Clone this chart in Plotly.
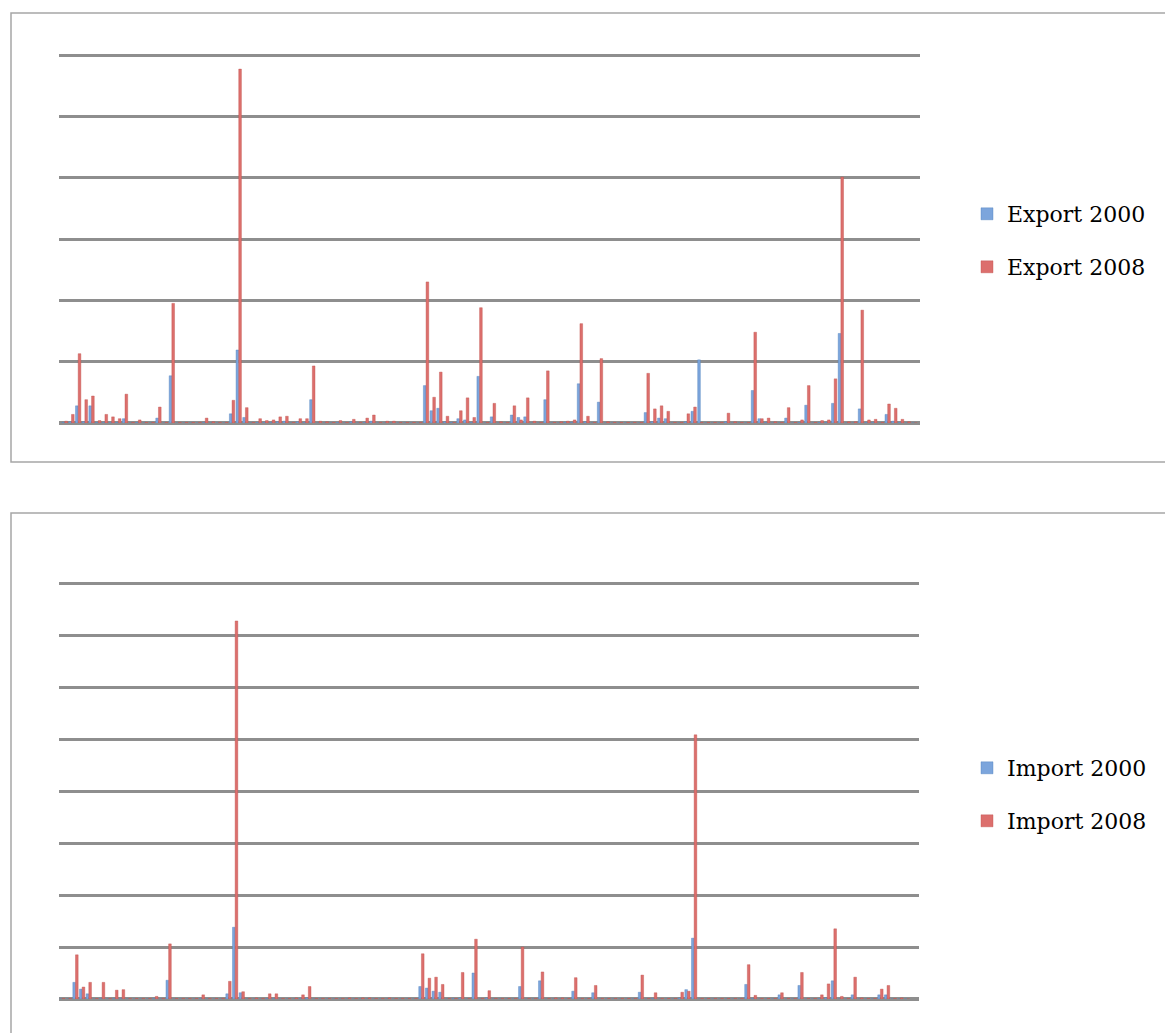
import plotly.graph_objects as go

W, H = 1173, 1033
OFF = 8  # page body margin in the browser
N = 128
categories = [str(i + 1) for i in range(N)]

export_2000 = [
    0.01, 0.02, 0.28, 0.02, 0.28, 0.01, 0.01, 0.01, 0.01, 0.07,
    0.00, 0.01, 0.00, 0.00, 0.08, 0.00, 0.77, 0.00, 0.00, 0.00,
    0.00, 0.01, 0.00, 0.00, 0.00, 0.15, 1.19, 0.09, 0.00, 0.01,
    0.01, 0.01, 0.02, 0.03, 0.00, 0.02, 0.01, 0.38, 0.00, 0.00,
    0.00, 0.01, 0.00, 0.02, 0.00, 0.01, 0.03, 0.00, 0.00, 0.00,
    0.00, 0.00, 0.00, 0.00, 0.61, 0.20, 0.24, 0.02, 0.01, 0.07,
    0.05, 0.01, 0.76, 0.00, 0.10, 0.00, 0.00, 0.13, 0.09, 0.10,
    0.00, 0.00, 0.38, 0.00, 0.00, 0.01, 0.01, 0.64, 0.02, 0.00,
    0.34, 0.00, 0.00, 0.00, 0.00, 0.00, 0.00, 0.17, 0.02, 0.08,
    0.07, 0.00, 0.00, 0.02, 0.19, 1.03, 0.00, 0.00, 0.00, 0.02,
    0.00, 0.00, 0.00, 0.53, 0.07, 0.01, 0.00, 0.00, 0.08, 0.00,
    0.01, 0.29, 0.00, 0.01, 0.01, 0.32, 1.46, 0.00, 0.00, 0.23,
    0.01, 0.01, 0.00, 0.14, 0.03, 0.01, 0.00, 0.00,
]

export_2008 = [
    0.03, 0.14, 1.13, 0.38, 0.44, 0.04, 0.14, 0.10, 0.07, 0.47,
    0.01, 0.05, 0.01, 0.01, 0.26, 0.01, 1.95, 0.01, 0.01, 0.01,
    0.01, 0.08, 0.02, 0.01, 0.01, 0.37, 5.77, 0.25, 0.01, 0.07,
    0.04, 0.05, 0.10, 0.11, 0.01, 0.07, 0.07, 0.93, 0.03, 0.02,
    0.01, 0.04, 0.01, 0.06, 0.01, 0.08, 0.13, 0.01, 0.03, 0.03,
    0.01, 0.01, 0.01, 0.01, 2.30, 0.42, 0.83, 0.11, 0.01, 0.20,
    0.41, 0.09, 1.88, 0.01, 0.32, 0.02, 0.01, 0.28, 0.05, 0.41,
    0.03, 0.01, 0.85, 0.01, 0.02, 0.03, 0.05, 1.62, 0.11, 0.01,
    1.05, 0.02, 0.01, 0.01, 0.01, 0.01, 0.01, 0.81, 0.23, 0.28,
    0.19, 0.01, 0.01, 0.15, 0.26, 0.01, 0.01, 0.01, 0.01, 0.16,
    0.02, 0.01, 0.01, 1.48, 0.07, 0.08, 0.02, 0.01, 0.25, 0.01,
    0.05, 0.61, 0.01, 0.04, 0.05, 0.72, 4.01, 0.02, 0.02, 1.84,
    0.05, 0.06, 0.01, 0.31, 0.24, 0.06, 0.02, 0.00,
]

import_2000 = [
    0.00, 0.00, 0.32, 0.19, 0.10, 0.00, 0.01, 0.00, 0.01, 0.01,
    0.00, 0.00, 0.00, 0.00, 0.01, 0.00, 0.36, 0.00, 0.00, 0.00,
    0.00, 0.01, 0.00, 0.00, 0.00, 0.10, 1.38, 0.12, 0.00, 0.00,
    0.00, 0.01, 0.01, 0.00, 0.00, 0.00, 0.01, 0.02, 0.00, 0.00,
    0.00, 0.00, 0.00, 0.00, 0.00, 0.00, 0.00, 0.00, 0.00, 0.00,
    0.00, 0.00, 0.00, 0.00, 0.24, 0.21, 0.15, 0.13, 0.00, 0.01,
    0.02, 0.00, 0.50, 0.00, 0.02, 0.00, 0.00, 0.00, 0.00, 0.24,
    0.00, 0.00, 0.35, 0.00, 0.00, 0.00, 0.00, 0.15, 0.00, 0.00,
    0.12, 0.00, 0.00, 0.00, 0.00, 0.00, 0.00, 0.13, 0.00, 0.01,
    0.00, 0.00, 0.00, 0.02, 0.18, 1.17, 0.00, 0.00, 0.00, 0.00,
    0.00, 0.00, 0.00, 0.28, 0.01, 0.00, 0.00, 0.00, 0.08, 0.00,
    0.00, 0.26, 0.00, 0.00, 0.01, 0.02, 0.35, 0.00, 0.00, 0.08,
    0.00, 0.00, 0.00, 0.08, 0.08, 0.00, 0.00, 0.00,
]

import_2008 = [
    0.01, 0.01, 0.85, 0.23, 0.32, 0.01, 0.32, 0.01, 0.17, 0.18,
    0.01, 0.01, 0.01, 0.01, 0.05, 0.01, 1.06, 0.01, 0.01, 0.01,
    0.01, 0.08, 0.01, 0.01, 0.01, 0.34, 7.27, 0.14, 0.01, 0.02,
    0.01, 0.10, 0.10, 0.01, 0.01, 0.02, 0.08, 0.24, 0.01, 0.01,
    0.01, 0.01, 0.01, 0.02, 0.01, 0.02, 0.02, 0.01, 0.01, 0.02,
    0.01, 0.01, 0.01, 0.01, 0.87, 0.40, 0.42, 0.28, 0.01, 0.01,
    0.51, 0.01, 1.15, 0.01, 0.16, 0.01, 0.01, 0.01, 0.01, 1.00,
    0.01, 0.01, 0.52, 0.01, 0.02, 0.02, 0.01, 0.41, 0.01, 0.01,
    0.26, 0.01, 0.01, 0.01, 0.01, 0.01, 0.01, 0.46, 0.01, 0.12,
    0.01, 0.01, 0.01, 0.13, 0.15, 5.08, 0.01, 0.01, 0.01, 0.01,
    0.01, 0.01, 0.01, 0.66, 0.07, 0.01, 0.01, 0.01, 0.12, 0.01,
    0.01, 0.51, 0.01, 0.01, 0.08, 0.29, 1.35, 0.05, 0.01, 0.42,
    0.02, 0.01, 0.01, 0.19, 0.26, 0.01, 0.02, 0.00,
]

BLUE = "#7CA5DC"
RED = "#DC6F6D"
BLUE_EDGE = "#4F81BD"
RED_EDGE = "#C0504D"
GRID = "#8E8E8E"
FONT = "DejaVu Serif"


def px_x(p):
    return (p - OFF) / W


def px_y(p):
    return 1 - (p - OFF) / H


# plot geometry (screen pixels)
TOP_BASE, TOP_UNIT, TOP_MAX = 423, 61.33, 6.05
BOT_BASE, BOT_UNIT, BOT_MAX = 999, 52.0, 8.05

fig = go.Figure()

fig.add_trace(go.Bar(x=categories, y=export_2000, name="Export 2000",
                     marker=dict(color=BLUE, line=dict(color=BLUE_EDGE, width=0.4)),
                     xaxis="x", yaxis="y", legend="legend"))
fig.add_trace(go.Bar(x=categories, y=export_2008, name="Export 2008",
                     marker=dict(color=RED, line=dict(color=RED_EDGE, width=0.4)),
                     xaxis="x", yaxis="y", legend="legend2"))
fig.add_trace(go.Bar(x=categories, y=import_2000, name="Import 2000",
                     marker=dict(color=BLUE, line=dict(color=BLUE_EDGE, width=0.4)),
                     xaxis="x2", yaxis="y2", legend="legend3"))
fig.add_trace(go.Bar(x=categories, y=import_2008, name="Import 2008",
                     marker=dict(color=RED, line=dict(color=RED_EDGE, width=0.4)),
                     xaxis="x2", yaxis="y2", legend="legend4"))

axis_common_x = dict(type="category", showticklabels=False, showgrid=False,
                     zeroline=False, showline=False, ticks="", fixedrange=True)
axis_common_y = dict(showticklabels=False, showgrid=True, gridcolor=GRID, gridwidth=3,
                     zeroline=True, zerolinecolor=GRID, zerolinewidth=4,
                     showline=False, ticks="", tick0=0, dtick=1, fixedrange=True)

legend_common = dict(xanchor="left", yanchor="middle", bgcolor="rgba(0,0,0,0)",
                     font=dict(family=FONT, size=22, color="#000000"))

fig.update_layout(
    width=W, height=H,
    margin=dict(l=0, r=0, t=0, b=0),
    paper_bgcolor="white", plot_bgcolor="white",
    barmode="group", bargap=0.2, bargroupgap=0.0,
    showlegend=True,
    xaxis=dict(domain=[px_x(59), px_x(920)], range=[-0.867, 127.83], anchor="y", **axis_common_x),
    yaxis=dict(domain=[px_y(TOP_BASE), px_y(TOP_BASE - TOP_MAX * TOP_UNIT)],
               range=[0, TOP_MAX], anchor="x", **axis_common_y),
    xaxis2=dict(domain=[px_x(59), px_x(919)], range=[-0.48, 128.8], anchor="y2", **axis_common_x),
    yaxis2=dict(domain=[px_y(BOT_BASE), px_y(BOT_BASE - BOT_MAX * BOT_UNIT)],
                range=[0, BOT_MAX], anchor="x2", **axis_common_y),
    legend=dict(x=px_x(967), y=px_y(214), **legend_common),
    legend2=dict(x=px_x(967), y=px_y(267), **legend_common),
    legend3=dict(x=px_x(967), y=px_y(768), **legend_common),
    legend4=dict(x=px_x(967), y=px_y(821), **legend_common),
    shapes=[
        dict(type="rect", xref="paper", yref="paper",
             x0=px_x(11), x1=px_x(1172), y0=px_y(462), y1=px_y(13),
             line=dict(color="#A6A6A6", width=1.5), fillcolor="rgba(0,0,0,0)", layer="below"),
        dict(type="rect", xref="paper", yref="paper",
             x0=px_x(11), x1=px_x(1172), y0=px_y(1090), y1=px_y(513),
             line=dict(color="#A6A6A6", width=1.5), fillcolor="rgba(0,0,0,0)", layer="below"),
    ],
)

fig.write_html("out.html")
